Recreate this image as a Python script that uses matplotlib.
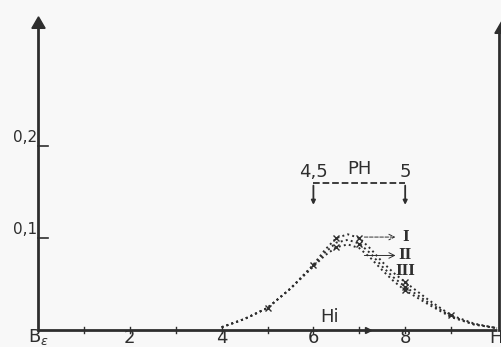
import matplotlib
matplotlib.use("Agg")
import matplotlib.pyplot as plt

# ── Data ─────────────────────────────────────────────────────────────────────
hi = [4, 4.5, 5, 5.5, 6, 6.25, 6.5, 6.75, 7, 7.25, 7.5, 7.75, 8, 8.5, 9, 9.5, 10]
curve_I = [0.003, 0.012, 0.024, 0.045, 0.071, 0.087, 0.100, 0.104, 0.100, 0.088,
           0.074, 0.062, 0.052, 0.033, 0.016, 0.007, 0.002]
curve_II = [0.003, 0.012, 0.024, 0.045, 0.070, 0.084, 0.095, 0.098, 0.094, 0.083,
            0.069, 0.057, 0.047, 0.030, 0.015, 0.006, 0.002]
curve_III = [0.003, 0.012, 0.024, 0.045, 0.069, 0.081, 0.090, 0.093, 0.089, 0.078,
             0.065, 0.053, 0.043, 0.028, 0.014, 0.006, 0.002]
marks_I = [2, 4, 6, 8, 12, 14]
marks_II = [8, 12]
marks_III = [6, 12]

x_ticks = [2, 4, 6, 8]
x_minor = [1, 3, 5, 7, 9]
y_ticks = [0.1, 0.2]
y_labels = ["0,1", "0,2"]
ph_left, ph_right, ph_level = 6, 8, 0.16

INK = "#2e2e2e"
Y_BOTTOM = -0.0185

fig = plt.figure(figsize=(5.02, 3.47), dpi=100)
fig.patch.set_facecolor("#f8f8f8")
ax = fig.add_axes([0, 0, 1, 1])
ax.set_facecolor("#f8f8f8")
ax.set_xlim(-0.83, 10.11)
ax.set_ylim(Y_BOTTOM, 0.3587)
ax.axis("off")

# axes
ax.plot([0, 10], [0, 0], color=INK, lw=2.0, solid_capstyle="butt")
ax.plot([0, 0], [0, 0.33], color=INK, lw=2.0)
ax.plot([10.05, 10.05], [0, 0.325], color=INK, lw=2.0)
ax.plot([0], [0.333], marker=(3, 0, 0), ms=11, color=INK)
ax.plot([10.08], [0.327], marker=(3, 0, 0), ms=11, color=INK)

# x ticks
for t in x_ticks + x_minor:
    ax.plot([t, t], [-0.003, 0.003], color=INK, lw=1.0)
ax.plot([7.2], [0], marker=">", ms=5, color=INK)
lab_y = Y_BOTTOM + 0.0005
ax.text(0, lab_y, "B$_\\epsilon$", fontsize=13, color=INK, ha="center", va="bottom")
for t in x_ticks:
    ax.text(t, lab_y, str(t), fontsize=13, color=INK, ha="center", va="bottom")
ax.text(9.97, lab_y, "H", fontsize=13, color=INK, ha="center", va="bottom")
ax.text(6.35, 0.004, "Hi", fontsize=13, color=INK, ha="center", va="bottom")

# y ticks
for t, lab in zip(y_ticks, y_labels):
    ax.plot([0, 0.22], [t, t], color=INK, lw=1.2)
    ax.text(-0.02, t + 0.001, lab, fontsize=11, color=INK, ha="right", va="bottom")

# curves
for ys, mk in ((curve_I, marks_I), (curve_II, marks_II), (curve_III, marks_III)):
    ax.plot(hi, ys, ls=":", lw=1.4, color=INK, marker="x", ms=4, mew=1.0,
            markevery=mk)

# PH range
ax.plot([ph_left, ph_right], [ph_level, ph_level], ls="--", lw=1.3, color=INK)
for xv in (ph_left, ph_right):
    ax.annotate("", xy=(xv, 0.133), xytext=(xv, ph_level),
                arrowprops=dict(arrowstyle="-|>", color=INK, lw=1.3,
                                mutation_scale=6))
ax.text(ph_left, ph_level + 0.002, "4,5", fontsize=13, color=INK, ha="center", va="bottom")
ax.text(ph_right, ph_level + 0.002, "5", fontsize=13, color=INK, ha="center", va="bottom")
ax.text(7.0, ph_level + 0.005, "PH", fontsize=13, color=INK, ha="center", va="bottom")

# curve labels
ax.annotate("", xy=(7.85, 0.101), xytext=(7.05, 0.101),
            arrowprops=dict(arrowstyle="->", color=INK, lw=0.7, ls="--"))
ax.annotate("", xy=(7.85, 0.081), xytext=(7.05, 0.081),
            arrowprops=dict(arrowstyle="->", color=INK, lw=0.7))
for lab, yv in (("I", 0.101), ("II", 0.081), ("III", 0.064)):
    ax.text(8.0, yv, lab, fontsize=10, fontweight="bold", family="DejaVu Serif",
            color=INK, ha="center", va="center")

fig.savefig("out.png", dpi=100, facecolor=fig.get_facecolor())
